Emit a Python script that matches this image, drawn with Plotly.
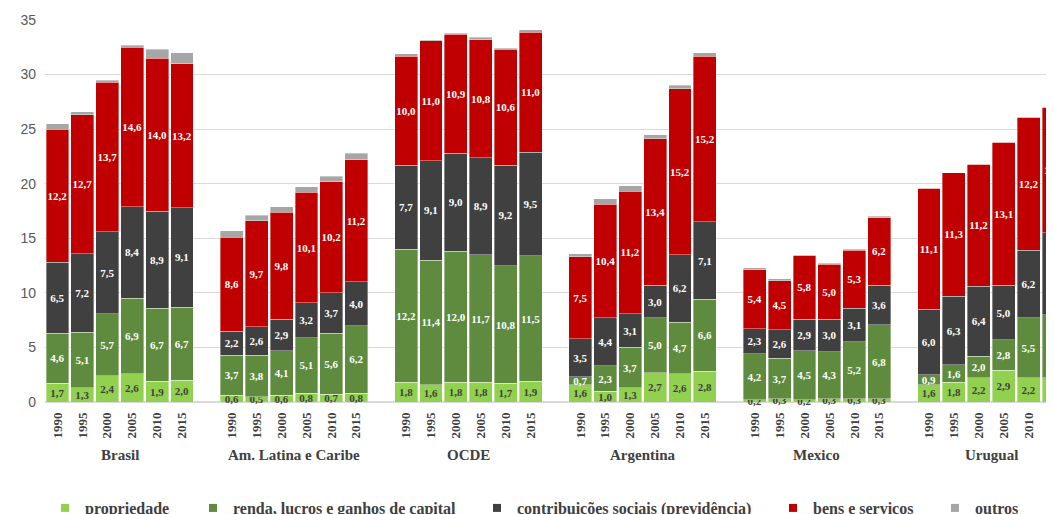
import plotly.graph_objects as go

# groups and years (6 bars per group)
groups = ['Brasil', 'Am. Latina e Caribe', 'OCDE', 'Argentina', 'Mexico', 'Urugual']
years = ['1990', '1995', '2000', '2005', '2010', '2015']

# % do PIB, one row per group (1990..2015)
propriedade = [
    1.7, 1.3, 2.4, 2.6, 1.9, 2.0,
    0.6, 0.5, 0.6, 0.8, 0.7, 0.8,
    1.8, 1.6, 1.8, 1.8, 1.7, 1.9,
    1.6, 1.0, 1.3, 2.7, 2.6, 2.8,
    0.2, 0.3, 0.2, 0.3, 0.3, 0.3,
    1.6, 1.8, 2.2, 2.9, 2.2, 2.2,
]
renda = [
    4.6, 5.1, 5.7, 6.9, 6.7, 6.7,
    3.7, 3.8, 4.1, 5.1, 5.6, 6.2,
    12.2, 11.4, 12.0, 11.7, 10.8, 11.5,
    0.7, 2.3, 3.7, 5.0, 4.7, 6.6,
    4.2, 3.7, 4.5, 4.3, 5.2, 6.8,
    0.9, 1.6, 2.0, 2.8, 5.5, 5.8,
]
contribuicoes = [
    6.5, 7.2, 7.5, 8.4, 8.9, 9.1,
    2.2, 2.6, 2.9, 3.2, 3.7, 4.0,
    7.7, 9.1, 9.0, 8.9, 9.2, 9.5,
    3.5, 4.4, 3.1, 3.0, 6.2, 7.1,
    2.3, 2.6, 2.9, 3.0, 3.1, 3.6,
    6.0, 6.3, 6.4, 5.0, 6.2, 7.5,
]
bens = [
    12.2, 12.7, 13.7, 14.6, 14.0, 13.2,
    8.6, 9.7, 9.8, 10.1, 10.2, 11.2,
    10.0, 11.0, 10.9, 10.8, 10.6, 11.0,
    7.5, 10.4, 11.2, 13.4, 15.2, 15.2,
    5.4, 4.5, 5.8, 5.0, 5.3, 6.2,
    11.1, 11.3, 11.2, 13.1, 12.2, 11.5,
]
outros = [
    0.5, 0.3, 0.2, 0.2, 0.8, 1.0,
    0.6, 0.5, 0.5, 0.5, 0.5, 0.6,
    0.2, 0.1, 0.1, 0.2, 0.1, 0.2,
    0.3, 0.5, 0.5, 0.4, 0.3, 0.3,
    0.2, 0.2, 0.1, 0.1, 0.1, 0.1,
    0.0, 0.0, 0.0, 0.0, 0.0, 0.0,
]

serif = 'Liberation Serif'
dark = '#404040'

# x slot for each bar: 6 bars then one empty slot between groups
xs = [g * 7 + i for g in range(len(groups)) for i in range(len(years))]
tick_text = years * len(groups)


def fmt(v):
    return f'{v:.1f}'.replace('.', ',')


series = [
    ('propriedade', propriedade, '#92D050', dark, True),
    ('renda, lucros e ganhos de capital', renda, '#5E8B3E', 'white', True),
    ('contribuições sociais (previdência)', contribuicoes, '#404040', 'white', True),
    ('bens e serviços', bens, '#C00000', 'white', True),
    ('outros', outros, '#A6A6A6', 'white', False),
]

# page has an 8px body margin, so the figure is a bit smaller than the window
W, H = 1046, 506
plot_left = 37
plot_w = W - plot_left

# legend entries sit at their own spots along the bottom (figure px of the swatch)
legend_px = [57, 205, 489, 785, 947]

fig = go.Figure()
for k, (name, vals, color, tcolor, labels) in enumerate(series):
    fig.add_trace(go.Bar(
        x=xs,
        y=vals,
        name=name,
        showlegend=False,
        marker=dict(color=color, line=dict(color='rgba(255,255,255,0.6)', width=0.6)),
        text=[fmt(v) for v in vals] if labels else None,
        textposition='inside' if labels else 'none',
        insidetextanchor='middle',
        textangle=0,
        constraintext='none',
        cliponaxis=False,
        textfont=dict(family=serif, size=11, color=tcolor, weight='bold'),
        hoverinfo='skip',
    ))
    # legend-only swatch
    fig.add_trace(go.Scatter(
        x=[None], y=[None], mode='markers', name=name,
        marker=dict(symbol='square', size=8, color=color),
        legend='legend' if k == 0 else f'legend{k + 1}',
    ))

# group names under the year labels
for g, name in enumerate(groups):
    fig.add_annotation(
        x=g * 7 + 2.5, y=-0.138, xref='x', yref='paper',
        text=f'<b>{name}</b>', showarrow=False,
        font=dict(family=serif, size=15, color=dark),
        yanchor='middle',
    )

legend_font = dict(family=serif, size=16, color=dark, weight='bold')
legends = {}
for k, px in enumerate(legend_px):
    key = 'legend' if k == 0 else f'legend{k + 1}'
    legends[key] = dict(
        orientation='h',
        x=(px - 20 - plot_left) / plot_w, xanchor='left',
        y=-0.2775, yanchor='middle',
        font=legend_font,
        itemwidth=30,
        bgcolor='rgba(0,0,0,0)',
    )

fig.update_layout(
    width=W,
    height=H,
    barmode='stack',
    bargap=0.08,
    plot_bgcolor='white',
    paper_bgcolor='white',
    margin=dict(l=plot_left, r=0, t=12, b=112, autoexpand=False),
    uniformtext=dict(minsize=11, mode='show'),
    xaxis=dict(
        range=[-0.5, 40.02],
        automargin=False,
        tickmode='array',
        tickvals=xs,
        ticktext=tick_text,
        tickangle=-90,
        tickfont=dict(family=serif, size=13, color=dark, weight='bold'),
        ticklabelstandoff=7,
        showgrid=False,
        zeroline=False,
        showline=False,
        ticks='',
    ),
    yaxis=dict(
        range=[0, 35],
        automargin=False,
        dtick=5,
        gridcolor='#D9D9D9',
        gridwidth=1,
        zeroline=True,
        zerolinecolor='#D9D9D9',
        tickfont=dict(family='Liberation Sans', size=14, color='#595959'),
        ticklabelstandoff=8,
    ),
    **legends,
)

fig.write_html('out.html')
